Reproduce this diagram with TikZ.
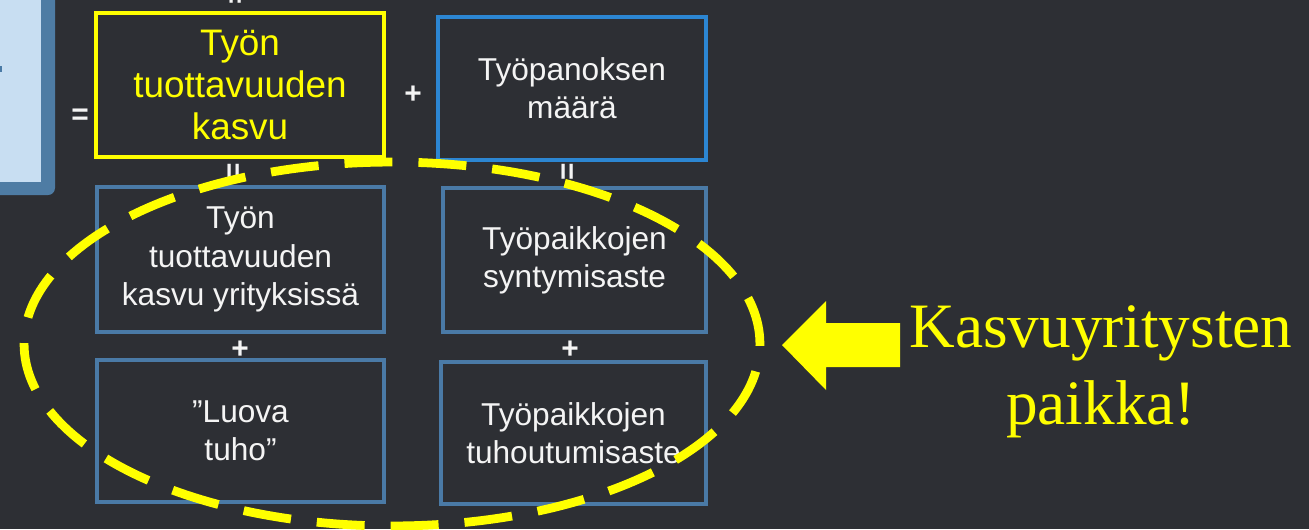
\documentclass[tikz,border=0pt]{standalone}
\usepackage{fontspec}
\setmainfont{Liberation Sans}
\newfontfamily\serifkasvu{Liberation Serif}
\definecolor{board}{RGB}{45,47,52}
\definecolor{boxblue}{RGB}{74,122,166}
\definecolor{brightblue}{RGB}{44,134,210}
\definecolor{panelblue}{RGB}{78,124,164}
\definecolor{panellight}{RGB}{200,222,242}
\definecolor{chalk}{RGB}{244,244,244}
\definecolor{kelta}{RGB}{255,255,0}

\begin{document}
\begin{tikzpicture}[x=0.02cm, y=-0.02cm,
  box/.style={draw=boxblue, line width=2.2pt, align=center, text=chalk, inner sep=0pt,
    font=\fontsize{18}{21.8}\selectfont},
  op/.style={text=chalk, font=\bfseries\fontsize{17}{17}\selectfont, inner sep=0pt}]

  \useasboundingbox (0,0) rectangle (1309,529);
  \clip (0,0) rectangle (1309,529);
  \fill[board] (0,0) rectangle (1309,529);

  % Left panel (cut off)
  \fill[panelblue, rounded corners=4pt] (-10,-10) rectangle (55,195);
  \fill[panellight] (-10,-10) rectangle (41,182);
  \fill[boxblue] (-1,66) rectangle (2,72);

  % Top row
  \node[op, rotate=90] (eq_0) at (238,-4) {=};
  \node[op] (eq_1) at (80,117) {=};

  \node[box, draw=kelta, text=kelta, minimum width=5.76cm, minimum height=2.88cm,
    font=\fontsize{21}{24}\selectfont] (tuott) at (240,85) {Työn\\tuottavuuden\\kasvu};
  \node[op] (plus_1) at (413,95) {+};
  \node[box, draw=brightblue, minimum width=5.36cm, minimum height=2.86cm] (panos) at (572,88.5) {Työpanoksen\\määrä};

  \node[op, rotate=90] (eq_2) at (236,172) {=};
  \node[op, rotate=90] (eq_3) at (570,172) {=};

  % Middle row
  \node[box, minimum width=5.74cm, minimum height=2.9cm] (tuott_yr) at (240.5,259.5) {Työn\\tuottavuuden\\kasvu yrityksissä};
  \node[box, minimum width=5.26cm, minimum height=2.88cm] (synt) at (574.5,260) {Työpaikkojen\\\rule{0pt}{12pt}syntymisaste};

  \node[op] (plus_2) at (240,350) {+};
  \node[op] (plus_3) at (570,350) {+};

  % Bottom row
  \node[box, minimum width=5.74cm, minimum height=2.84cm] (luova) at (240.5,431) {”Luova\\tuho”};
  \node[box, minimum width=5.3cm, minimum height=2.84cm] (tuho) at (573.5,433) {Työpaikkojen\\tuhoutumisaste};

  % Dashed ellipse
  \draw[kelta, line width=5pt, dash pattern=on 0.96cm off 0.52cm] (392,344) ellipse [x radius=7.36cm, y radius=3.64cm];

  % Arrow and text
  \fill[kelta] (782,345) -- (826,301) -- (826,323) -- (900,323) -- (900,367) -- (826,367) -- (826,390) -- cycle;
  \node[text=kelta, align=center, font=\serifkasvu\fontsize{36}{43.6}\selectfont] (paikka) at (1101,372) {Kasvuyritysten\\paikka!};
\end{tikzpicture}
\end{document}
